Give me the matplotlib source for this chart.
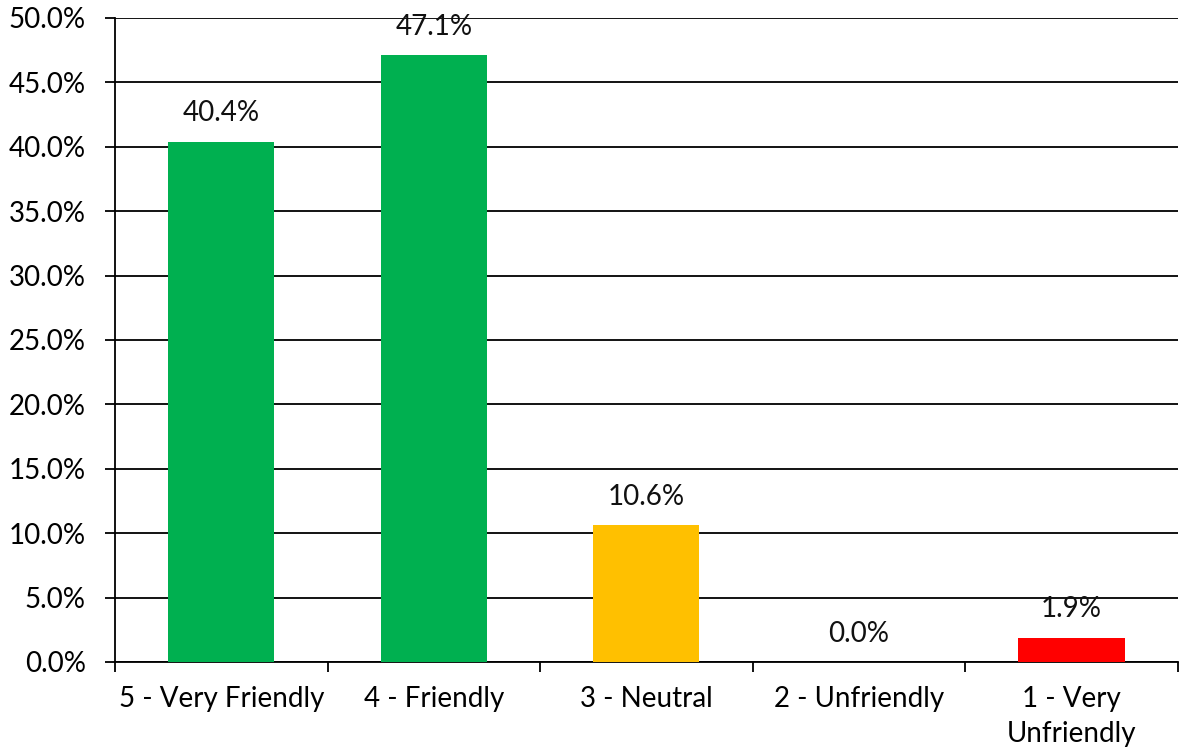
import matplotlib
matplotlib.use("Agg")
import matplotlib.pyplot as plt
from matplotlib.ticker import FuncFormatter, MultipleLocator, FixedLocator

# data
categories = ["5 - Very Friendly", "4 - Friendly", "3 - Neutral", "2 - Unfriendly", "1 - Very\nUnfriendly"]
values = [40.4, 47.1, 10.6, 0.0, 1.9]
colors = ["#00B050", "#00B050", "#FFC000", "#FFC000", "#FF0000"]

plt.rcParams["font.family"] = ["Lato", "DejaVu Sans"]
FS = 20

fig = plt.figure(figsize=(11.8, 7.47), dpi=100)
ax = fig.add_axes([0.0975, 0.1138, 0.9005, 0.8622])

x = list(range(len(categories)))
ax.bar(x, values, width=0.5, color=colors, zorder=3)

for xi, v in zip(x, values):
    ax.annotate(f"{v:.1f}%", (xi, v), xytext=(0, 11), textcoords="offset points",
                ha="center", va="bottom", fontsize=FS, color="#111111")

ax.set_xlim(-0.5, len(categories) - 0.5)
ax.set_ylim(0, 50)
ax.yaxis.set_major_locator(MultipleLocator(5))
ax.yaxis.set_major_formatter(FuncFormatter(lambda v, p: f"{v:.1f}%"))
ax.grid(axis="y", color="black", linewidth=1.3, zorder=0)

ax.set_xticks(x)
ax.set_xticklabels(categories, fontsize=FS, linespacing=1.45)
ax.xaxis.set_minor_locator(FixedLocator([i - 0.5 for i in range(len(categories) + 1)]))
ax.tick_params(axis="x", which="major", length=0, pad=17)
ax.tick_params(axis="x", which="minor", length=7, width=1.3, color="black", direction="out")
ax.tick_params(axis="y", length=7, width=1.3, pad=14, labelsize=FS)

for s in ["top", "right"]:
    ax.spines[s].set_visible(False)
ax.spines["left"].set_linewidth(1.3)
ax.spines["bottom"].set_linewidth(1.3)

fig.savefig("out.png", dpi=100)
